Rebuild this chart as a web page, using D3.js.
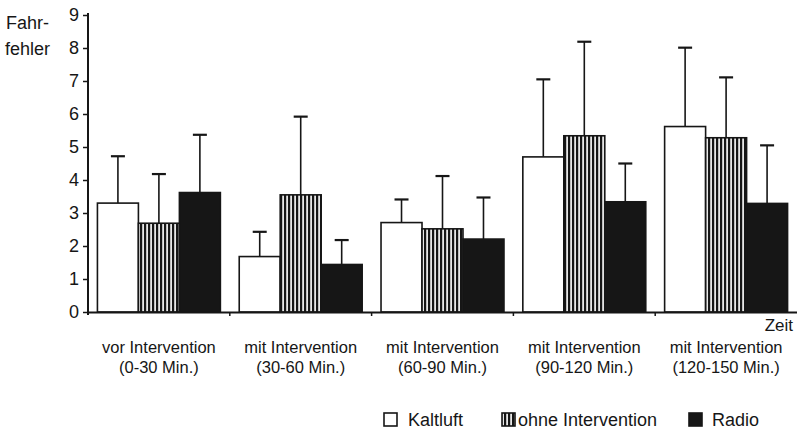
<!DOCTYPE html>
<html>
<head>
<meta charset="utf-8">
<script src="https://cdn.jsdelivr.net/npm/d3@7"></script>
<style>
  html, body { margin: 0; padding: 0; background: #fff; }
  svg { display: block; font-family: "Liberation Sans", Arial, sans-serif; }
</style>
</head>
<body>
<svg id="chart" width="797" height="430"></svg>
<script>
// ---- data ----
const categoriesLine1 = ["vor Intervention", "mit Intervention", "mit Intervention", "mit Intervention", "mit Intervention"];
const categoriesLine2 = ["(0-30 Min.)", "(30-60 Min.)", "(60-90 Min.)", "(90-120 Min.)", "(120-150 Min.)"];
const seriesNames = ["Kaltluft", "ohne Intervention", "Radio"];
const kaltluftMean = [3.30, 1.68, 2.71, 4.70, 5.62];
const kaltluftSD   = [1.42, 0.75, 0.70, 2.35, 2.39];
const ohneMean     = [2.69, 3.55, 2.52, 5.34, 5.28];
const ohneSD       = [1.49, 2.37, 1.60, 2.85, 1.83];
const radioMean    = [3.62, 1.44, 2.21, 3.34, 3.29];
const radioSD      = [1.75, 0.74, 1.26, 1.16, 1.76];
const yTicks = [0, 1, 2, 3, 4, 5, 6, 7, 8, 9];

const means = [kaltluftMean, ohneMean, radioMean];
const sds = [kaltluftSD, ohneSD, radioSD];

// ---- layout ----
const svg = d3.select("#chart");
const x0 = 88, x1 = 797, yTop = 15, yBottom = 312;
const ink = "#161616";

const defs = svg.append("defs");
const pat = defs.append("pattern")
  .attr("id", "stripes").attr("patternUnits", "userSpaceOnUse")
  .attr("width", 4).attr("height", 4);
pat.append("rect").attr("width", 4).attr("height", 4).attr("fill", "#e8e8e8");
pat.append("rect").attr("width", 2.2).attr("height", 4).attr("fill", ink);

const fills = ["#ffffff", "url(#stripes)", ink];

const xGroup = d3.scaleBand().domain(d3.range(categoriesLine1.length)).range([x0, x1]).paddingInner(0).paddingOuter(0);
const xSeries = d3.scaleBand().domain(d3.range(seriesNames.length)).range([0, xGroup.bandwidth()]).paddingInner(0).paddingOuter(0.23);
const y = d3.scaleLinear().domain([0, 9]).range([yBottom, yTop]);

// bars
const data = [];
categoriesLine1.forEach((c, gi) => {
  seriesNames.forEach((s, si) => {
    data.push({ gi, si, v: means[si][gi], sd: sds[si][gi] });
  });
});

const g = svg.append("g");
// error bars (behind bars)
data.forEach(d => {
  const cx = xGroup(d.gi) + xSeries(d.si) + xSeries.bandwidth() / 2;
  g.append("line").attr("x1", cx).attr("x2", cx)
    .attr("y1", y(d.v)).attr("y2", y(d.v + d.sd))
    .attr("stroke", ink).attr("stroke-width", 1.6);
  g.append("line").attr("x1", cx - 7).attr("x2", cx + 7)
    .attr("y1", y(d.v + d.sd)).attr("y2", y(d.v + d.sd))
    .attr("stroke", ink).attr("stroke-width", 2.2);
});

g.selectAll("rect.bar").data(data).enter().append("rect")
  .attr("class", "bar")
  .attr("x", d => xGroup(d.gi) + xSeries(d.si))
  .attr("width", xSeries.bandwidth())
  .attr("y", d => y(d.v))
  .attr("height", d => y(0) - y(d.v))
  .attr("fill", d => fills[d.si])
  .attr("stroke", ink).attr("stroke-width", 1.6);

// y axis
const yAxis = d3.axisLeft(y).tickValues(yTicks).tickFormat(d3.format("d")).tickSize(5).tickSizeOuter(0).tickPadding(4);
const ya = svg.append("g").attr("transform", `translate(${x0},0)`).call(yAxis);
ya.select(".domain").remove();
ya.selectAll(".tick line").attr("stroke", ink).attr("stroke-width", 1.5);
ya.selectAll(".tick text").attr("font-size", 18).attr("fill", ink)
  .attr("font-family", "'Liberation Sans', Arial, sans-serif");
svg.append("line").attr("x1", x0).attr("x2", x0).attr("y1", yTop - 2).attr("y2", yBottom + 3)
  .attr("stroke", ink).attr("stroke-width", 2);

// x axis line
svg.append("line").attr("x1", x0).attr("x2", x1).attr("y1", yBottom + 0.5).attr("y2", yBottom + 0.5)
  .attr("stroke", ink).attr("stroke-width", 1.8);
d3.range(1, categoriesLine1.length).forEach(i => {
  const tx = xGroup(i);
  svg.append("line").attr("x1", tx).attr("x2", tx).attr("y1", yBottom).attr("y2", yBottom + 4)
    .attr("stroke", ink).attr("stroke-width", 1.5);
});

// category labels
categoriesLine1.forEach((c, i) => {
  const cx = xGroup(i) + xGroup.bandwidth() / 2;
  svg.append("text").attr("x", cx).attr("y", 353).attr("text-anchor", "middle")
    .attr("font-size", 16.5).attr("fill", ink).text(c);
  svg.append("text").attr("x", cx).attr("y", 373).attr("text-anchor", "middle")
    .attr("font-size", 16.5).attr("fill", ink).text(categoriesLine2[i]);
});

// axis titles
svg.append("text").attr("x", 6).attr("y", 29).attr("font-size", 18).attr("fill", ink).text("Fahr-");
svg.append("text").attr("x", 5).attr("y", 55).attr("font-size", 18).attr("fill", ink).text("fehler");
svg.append("text").attr("x", 793).attr("y", 331).attr("text-anchor", "end").attr("font-size", 17).attr("fill", ink).text("Zeit");

// legend
const legendBoxX = [384, 502, 689];
const legendTextX = [408, 518, 712];
seriesNames.forEach((s, i) => {
  svg.append("rect").attr("x", legendBoxX[i]).attr("y", 413).attr("width", 13).attr("height", 13)
    .attr("fill", fills[i]).attr("stroke", ink).attr("stroke-width", 1.6);
  svg.append("text").attr("x", legendTextX[i]).attr("y", 426).attr("font-size", 18).attr("fill", ink).text(s);
});
</script>
</body>
</html>
